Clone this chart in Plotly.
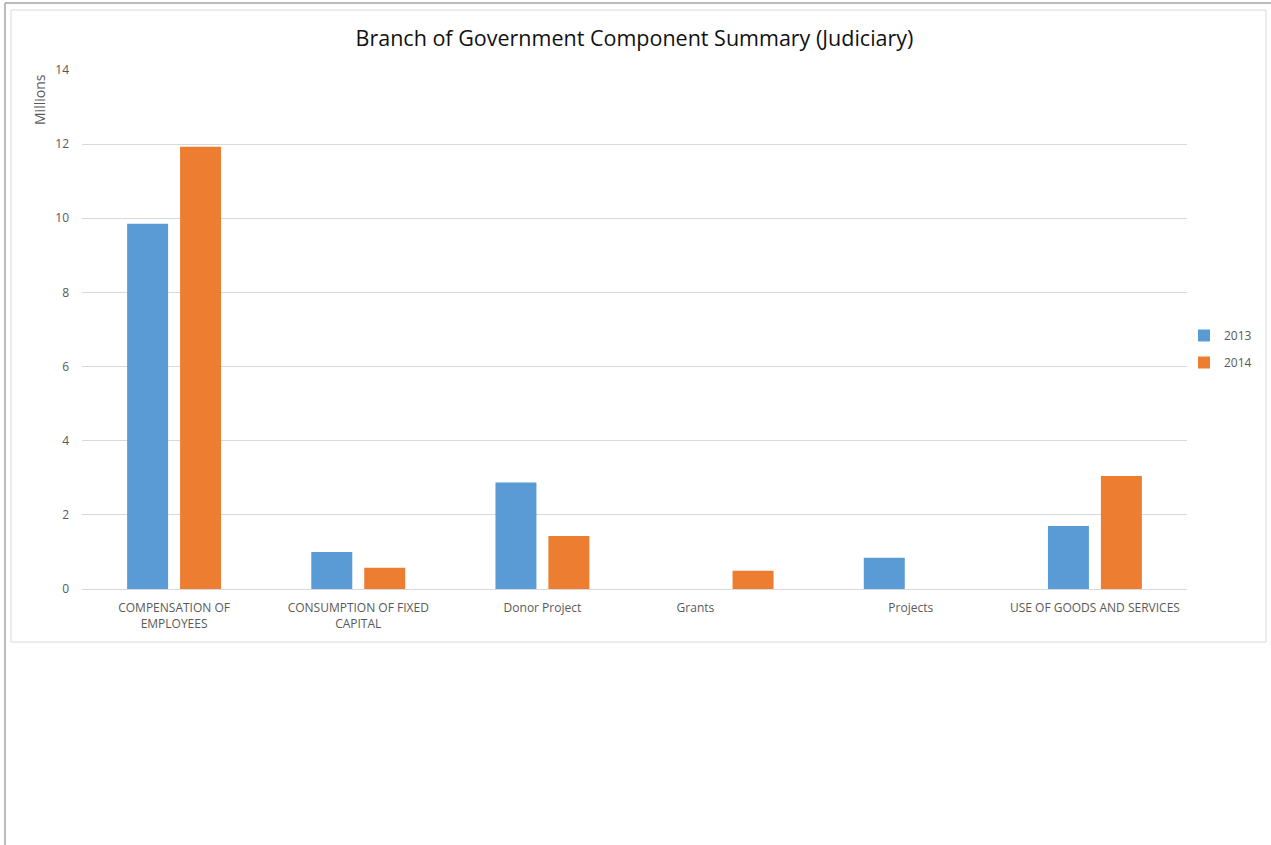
import plotly.graph_objects as go

categories = ["COMPENSATION OF<br>EMPLOYEES", "CONSUMPTION OF FIXED<br>CAPITAL", "Donor Project",
              "Grants" + "\u00a0" * 20, "Projects", "USE OF GOODS AND SERVICES"]
values_2013 = [9.85, 1.00, 2.87, 0, 0.84, 1.70]
values_2014 = [11.93, 0.57, 1.43, 0.49, 0, 3.05]
series_names = ["2013", "2014"]
colors = ["#5B9BD5", "#ED7D31"]

W, H = 1271, 845
L, R, T, B = 82, 1187, 70, 589


def px2x(px):
    return (px - L) / (R - L)


def px2y(py):
    return (B - py) / (B - T)


fig = go.Figure()
for name, vals, col in zip(series_names, [values_2013, values_2014], colors):
    fig.add_trace(go.Bar(x=list(range(len(categories))), y=vals, name=name, legendgroup=name,
                         marker=dict(color=col, line=dict(width=0))))

fig.update_layout(
    width=W, height=H,
    margin=dict(l=L, r=W - R, t=T, b=H - B, autoexpand=False),
    paper_bgcolor="white", plot_bgcolor="white",
    font=dict(family="Open Sans", color="#595959", size=12),
    barmode="group", bargap=0.425, bargroupgap=0.226,
    title=dict(text="Branch of Government Component Summary (Judiciary)",
               x=0.5, xanchor="center", xref="paper", y=1 - 38 / H, yanchor="middle",
               font=dict(family="Open Sans", size=21.5, color="#111111")),
    xaxis=dict(tickmode="array", tickvals=list(range(len(categories))), ticktext=categories,
               range=[-0.5, len(categories) - 0.5], showgrid=False, showline=False,
               zeroline=False, ticks="", tickangle=0, ticklabelstandoff=10,
               tickfont=dict(size=12)),
    yaxis=dict(range=[0, 14], dtick=2, showgrid=True, gridcolor="#d9d9d9", gridwidth=1,
               zeroline=True, zerolinecolor="#d9d9d9", zerolinewidth=1, showline=False,
               ticks="", ticklabelstandoff=12, tickfont=dict(size=12)),
    legend=dict(x=px2x(1184), xanchor="left", y=px2y(349), yanchor="middle",
                tracegroupgap=8, font=dict(size=12, color="#595959"), bgcolor="rgba(0,0,0,0)"),
    showlegend=True,
)

fig.add_annotation(text="Millions", textangle=-90, x=px2x(40), y=px2y(100), xref="paper", yref="paper",
                   showarrow=False, font=dict(size=14, color="#595959"), xanchor="center", yanchor="middle")

shapes = [
    dict(type="rect", xref="paper", yref="paper", x0=px2x(11), x1=px2x(1266), y0=px2y(642), y1=px2y(10),
         line=dict(color="#d9d9d9", width=1), fillcolor="rgba(0,0,0,0)", layer="below"),
    dict(type="line", xref="paper", yref="paper", x0=px2x(5), x1=px2x(1271), y0=px2y(3), y1=px2y(3),
         line=dict(color="#a6a6a6", width=1.5)),
    dict(type="line", xref="paper", yref="paper", x0=px2x(5), x1=px2x(5), y0=px2y(3), y1=px2y(845),
         line=dict(color="#a6a6a6", width=1.5)),
]
fig.update_layout(shapes=shapes)

fig.write_html("out.html", config={"displayModeBar": False},
               post_script="document.body.style.margin='0';document.body.style.overflow='hidden';")
